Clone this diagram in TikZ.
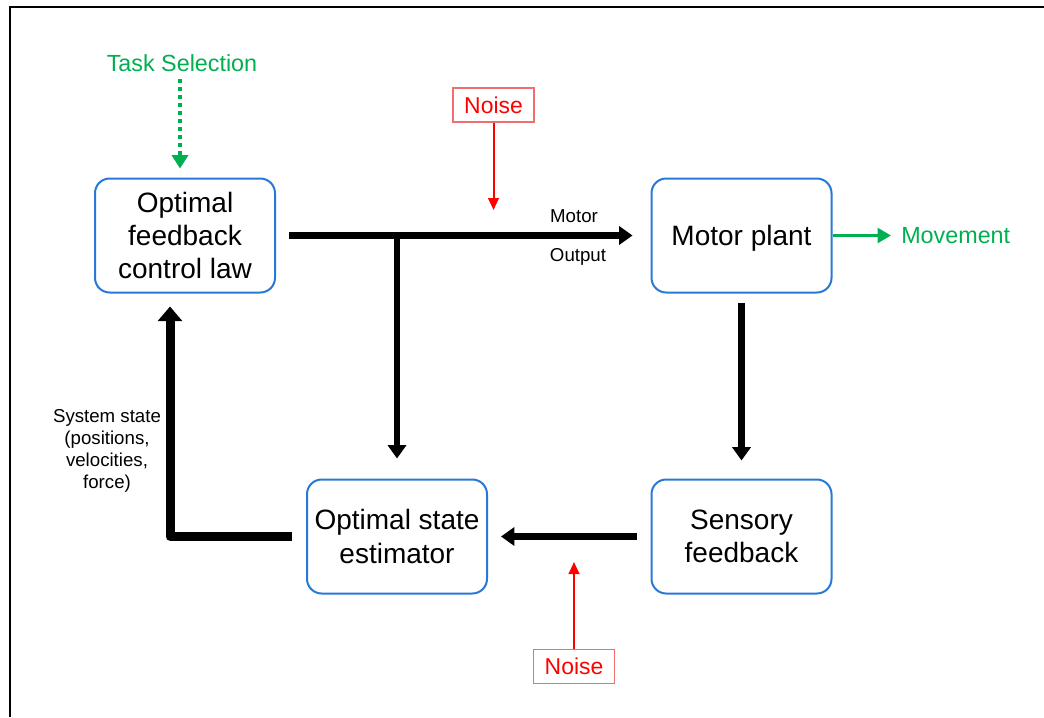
\documentclass[tikz,border=0pt]{standalone}
\usepackage{fontspec}
\setmainfont{Liberation Sans}
\usetikzlibrary{arrows.meta,calc}
\definecolor{boxblue}{RGB}{40,120,215}
\definecolor{taskgreen}{RGB}{0,176,80}
\definecolor{noisered}{RGB}{255,0,0}
\definecolor{noiseedge}{RGB}{240,110,110}
\begin{document}
\begin{tikzpicture}[x=0.75pt,y=-0.75pt,
  block/.style={draw=boxblue, line width=1.5pt, rounded corners=11pt,
    minimum width=135pt, minimum height=85.5pt, inner sep=0pt, align=center,
    font=\fontsize{21}{25}\selectfont},
  small/.style={inner sep=0pt, align=center, font=\fontsize{14}{16.5}\selectfont},
  noisebox/.style={draw=noiseedge, line width=0.9pt, text=noisered,
    minimum width=60.75pt, minimum height=25.5pt, inner sep=0pt,
    font=\fontsize{17.2}{20}\selectfont},
  greentext/.style={inner sep=0pt, text=taskgreen, font=\fontsize{17.5}{20}\selectfont},
  flow/.style={line width=5pt, -{Triangle[length=10pt,width=13.5pt]}},
  fbflow/.style={line width=6.75pt, line join=round, -{Triangle[length=11pt,width=18pt]}},
  noisearrow/.style={draw=noisered, line width=1.5pt, -{Triangle[length=9pt,width=8pt]}},
  movearrow/.style={draw=taskgreen, line width=2.25pt, -{Triangle[length=10pt,width=11pt]}},
  taskarrow/.style={draw=taskgreen, line width=3pt, dash pattern=on 3pt off 3pt,
    -{Triangle[length=10pt,width=12pt]}}
]
\useasboundingbox (0,0) rectangle (1044,717);
% frame
\draw[line width=1.5pt] (9.5,717) -- (9.5,6.8) -- (1044,6.8);

% blocks
\node[block] (ofcl) at (185,235.5) {Optimal\\feedback\\control law};
\node[block, text depth=0pt] (motor) at (741.5,235.5) {Motor plant};
\node[block] (sensory) at (741.5,536.5) {Sensory\\feedback};
\node[block] (est) at (397,536.5) {Optimal state\\estimator};

% main signal path
\draw[flow, shorten <=9.75pt, shorten >=13.5pt] (ofcl.east) -- (motor.west);
\coordinate (split) at (est.north |- ofcl.east);
\draw[flow, shorten >=15pt] (split) -- (est.north);
\draw[flow, shorten <=6.75pt, shorten >=13.5pt] (motor.south) -- (sensory.north);
\draw[flow, shorten <=10.5pt, shorten >=9.75pt] (sensory.west) -- (est.east);
\draw[fbflow, shorten <=10.5pt, shorten >=9.75pt] (est.west) -| ([xshift=-11.25pt]ofcl.south);

% labels on the paths
\node[small] (mlabel) at (574,216) {Motor};
\node[small] (olabel) at (578,257) {Output};
\node[small] (sys) at (107,450.5) {System state\\(positions,\\velocities,\\force)};

% noise sources
\node[noisebox] (n1) at (493.5,105) {Noise};
\coordinate (n1tip) at (493.5,210);
\draw[noisearrow] (n1.south) -- (n1tip);
\node[noisebox] (n2) at (574,666.5) {Noise};
\coordinate (n2tip) at (574,562);
\draw[noisearrow] (n2.north) -- (n2tip);

% task selection and movement output
\node[greentext] (task) at (182,63) {Task Selection};
\coordinate (taskstart) at (180,79);
\draw[taskarrow, shorten >=6.75pt] (taskstart) -- (taskstart |- ofcl.north);
\node[greentext, anchor=west] (move) at (901,235.5) {Movement};
\draw[movearrow, shorten >=7.5pt] (motor.east) -- (move.west);
\end{tikzpicture}
\end{document}
